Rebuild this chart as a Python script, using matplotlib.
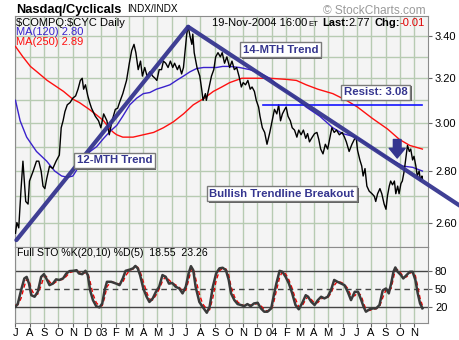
import matplotlib
matplotlib.use("Agg")
import matplotlib.pyplot as plt
from matplotlib.ticker import FixedLocator, FixedFormatter, NullFormatter
from matplotlib import patheffects
import numpy as np
import pandas as pd

plt.rcParams['font.family'] = ['Liberation Sans', 'DejaVu Sans']

# ---------------- data ----------------
price_dates = [
    '2002-07-01', '2002-07-04', '2002-07-08', '2002-07-13', '2002-07-17', '2002-07-21', '2002-07-23', '2002-07-28',
    '2002-07-31', '2002-08-08', '2002-08-15', '2002-08-20', '2002-08-25', '2002-08-29', '2002-09-02', '2002-09-06',
    '2002-09-12', '2002-09-19', '2002-09-26', '2002-10-03', '2002-10-07', '2002-10-11', '2002-10-15', '2002-10-20',
    '2002-10-26', '2002-11-01', '2002-11-07', '2002-11-12', '2002-11-17', '2002-11-21', '2002-11-24', '2002-11-28',
    '2002-12-03', '2002-12-07', '2002-12-11', '2002-12-19', '2002-12-26', '2002-12-31', '2003-01-06', '2003-01-13',
    '2003-01-18', '2003-01-24', '2003-01-31', '2003-02-05', '2003-02-09', '2003-02-16', '2003-02-24', '2003-03-02',
    '2003-03-07', '2003-03-12', '2003-03-16', '2003-03-21', '2003-03-26', '2003-03-30', '2003-04-04', '2003-04-09',
    '2003-04-15', '2003-04-21', '2003-04-26', '2003-04-30', '2003-05-05', '2003-05-10', '2003-05-14', '2003-05-19',
    '2003-05-24', '2003-05-29', '2003-06-03', '2003-06-07', '2003-06-13', '2003-06-17', '2003-06-22', '2003-06-26',
    '2003-06-29', '2003-07-03', '2003-07-06', '2003-07-10', '2003-07-14', '2003-07-16', '2003-07-19', '2003-07-25',
    '2003-07-31', '2003-08-04', '2003-08-07', '2003-08-12', '2003-08-14', '2003-08-20', '2003-08-25', '2003-08-30',
    '2003-09-03', '2003-09-08', '2003-09-13', '2003-09-17', '2003-09-22', '2003-09-27', '2003-10-03', '2003-10-08',
    '2003-10-13', '2003-10-18', '2003-10-23', '2003-10-28', '2003-11-01', '2003-11-06', '2003-11-11', '2003-11-16',
    '2003-11-20', '2003-11-25', '2003-11-29', '2003-12-04', '2003-12-07', '2003-12-12', '2003-12-17', '2003-12-22',
    '2003-12-28', '2004-01-02', '2004-01-07', '2004-01-12', '2004-01-16', '2004-01-20', '2004-01-24', '2004-01-29',
    '2004-02-01', '2004-02-05', '2004-02-10', '2004-02-14', '2004-02-19', '2004-02-24', '2004-02-28', '2004-03-04',
    '2004-03-09', '2004-03-14', '2004-03-18', '2004-03-22', '2004-03-28', '2004-04-02', '2004-04-07', '2004-04-11',
    '2004-04-15', '2004-04-20', '2004-04-25', '2004-04-30', '2004-05-05', '2004-05-09', '2004-05-14', '2004-05-19',
    '2004-05-25', '2004-05-31', '2004-06-05', '2004-06-09', '2004-06-15', '2004-06-21', '2004-06-26', '2004-06-30',
    '2004-07-03', '2004-07-08', '2004-07-12', '2004-07-15', '2004-07-19', '2004-07-23', '2004-07-28', '2004-08-03',
    '2004-08-08', '2004-08-11', '2004-08-15', '2004-08-20', '2004-08-24', '2004-08-29', '2004-09-02', '2004-09-05',
    '2004-09-09', '2004-09-12', '2004-09-16', '2004-09-20', '2004-09-23', '2004-09-27', '2004-09-30', '2004-10-04',
    '2004-10-07', '2004-10-11', '2004-10-14', '2004-10-18', '2004-10-22', '2004-10-25', '2004-10-29', '2004-11-01',
    '2004-11-05', '2004-11-08', '2004-11-12', '2004-11-15', '2004-11-18', '2004-11-19',
]
price_close = [
    2.56, 2.60, 2.58, 2.73, 2.84, 2.73, 2.68, 2.67,
    2.76, 2.80, 2.84, 2.84, 2.80, 2.74, 2.73, 2.77,
    2.82, 2.81, 2.84, 2.865, 2.98, 3.01, 3.05, 3.08,
    3.09, 3.11, 3.12, 3.15, 3.19, 3.20, 3.15, 3.17,
    3.12, 3.09, 3.065, 3.03, 3.01, 2.98, 3.04, 3.01,
    2.95, 3.01, 3.06, 3.065, 3.09, 3.13, 3.19, 3.27,
    3.33, 3.36, 3.32, 3.24, 3.28, 3.21, 3.25, 3.21,
    3.23, 3.21, 3.20, 3.19, 3.24, 3.24, 3.28, 3.27,
    3.25, 3.28, 3.25, 3.27, 3.24, 3.26, 3.22, 3.25,
    3.32, 3.41, 3.45, 3.40, 3.36, 3.41, 3.32, 3.25,
    3.21, 3.15, 3.10, 3.13, 3.10, 3.16, 3.21, 3.24,
    3.30, 3.32, 3.30, 3.32, 3.27, 3.30, 3.25, 3.28,
    3.24, 3.25, 3.21, 3.16, 3.18, 3.17, 3.19, 3.15,
    3.16, 3.14, 3.10, 3.07, 3.03, 2.98, 2.96, 2.91,
    2.96, 3.01, 3.06, 3.04, 3.08, 3.01, 3.04, 3.06,
    3.07, 3.03, 3.01, 2.98, 2.97, 2.94, 2.97, 2.95,
    2.97, 2.935, 2.955, 2.92, 2.94, 2.955, 2.96, 2.93,
    2.89, 2.87, 2.91, 2.89, 2.94, 2.98, 2.96, 2.97,
    2.95, 2.96, 2.94, 2.92, 2.88, 2.91, 2.93, 2.94,
    2.885, 2.845, 2.82, 2.78, 2.81, 2.74, 2.72, 2.71,
    2.70, 2.68, 2.71, 2.73, 2.71, 2.67, 2.65, 2.70,
    2.74, 2.76, 2.745, 2.76, 2.71, 2.74, 2.71, 2.75,
    2.76, 2.80, 2.845, 2.905, 2.88, 2.89, 2.845, 2.86,
    2.82, 2.78, 2.80, 2.76, 2.78, 2.77,
]

ma120_dates = [
    '2002-07-01', '2002-07-11', '2002-07-25', '2002-08-15', '2002-09-06', '2002-09-23', '2002-10-08', '2002-10-21',
    '2002-11-01', '2002-11-11', '2002-11-24', '2002-12-08', '2002-12-22', '2003-01-06', '2003-01-20', '2003-02-03',
    '2003-02-16', '2003-03-03', '2003-03-18', '2003-04-01', '2003-04-15', '2003-04-29', '2003-05-14', '2003-05-28',
    '2003-06-11', '2003-06-26', '2003-07-10', '2003-07-24', '2003-08-08', '2003-08-21', '2003-09-05', '2003-09-18',
    '2003-10-03', '2003-10-24', '2003-11-15', '2003-12-06', '2003-12-28', '2004-01-18', '2004-02-15', '2004-03-15',
    '2004-04-13', '2004-05-11', '2004-06-01', '2004-06-30', '2004-07-21', '2004-08-15', '2004-09-10', '2004-10-08',
    '2004-10-29', '2004-11-19',
]
ma120 = [
    3.10, 3.01, 2.94, 2.88, 2.84, 2.80, 2.78, 2.775,
    2.78, 2.81, 2.85, 2.88, 2.90, 2.935, 2.965, 2.99,
    3.03, 3.08, 3.11, 3.13, 3.135, 3.15, 3.16, 3.17,
    3.19, 3.21, 3.23, 3.245, 3.25, 3.25, 3.25, 3.255,
    3.255, 3.25, 3.24, 3.225, 3.20, 3.16, 3.12, 3.07,
    3.03, 2.98, 2.955, 2.94, 2.915, 2.88, 2.85, 2.82,
    2.815, 2.80,
]

ma250_dates = [
    '2002-07-01', '2002-07-17', '2002-08-02', '2002-08-16', '2002-09-07', '2002-09-21', '2002-10-12', '2002-11-01',
    '2002-11-15', '2002-12-06', '2002-12-22', '2003-01-06', '2003-01-19', '2003-01-27', '2003-02-03', '2003-02-16',
    '2003-03-10', '2003-04-01', '2003-04-23', '2003-05-14', '2003-06-04', '2003-06-26', '2003-07-17', '2003-08-10',
    '2003-08-29', '2003-09-16', '2003-10-03', '2003-10-29', '2003-11-26', '2003-12-28', '2004-02-01', '2004-02-23',
    '2004-03-15', '2004-04-09', '2004-05-11', '2004-06-09', '2004-07-03', '2004-08-04', '2004-09-05', '2004-10-01',
    '2004-10-23', '2004-11-19',
]
ma250 = [
    3.35, 3.30, 3.255, 3.23, 3.19, 3.17, 3.14, 3.105,
    3.09, 3.06, 3.035, 3.01, 2.975, 2.96, 2.95, 2.94,
    2.94, 2.95, 2.96, 2.98, 3.005, 3.04, 3.08, 3.11,
    3.14, 3.16, 3.18, 3.20, 3.20, 3.20, 3.195, 3.19,
    3.17, 3.15, 3.13, 3.10, 3.07, 3.02, 2.975, 2.93,
    2.905, 2.89,
]

sto_dates = [
    '2002-07-01', '2002-07-06', '2002-07-13', '2002-07-20', '2002-07-25', '2002-07-30', '2002-08-04', '2002-08-11',
    '2002-08-18', '2002-08-25', '2002-08-31', '2002-09-05', '2002-09-12', '2002-09-19', '2002-09-26', '2002-10-03',
    '2002-10-11', '2002-10-18', '2002-10-25', '2002-11-02', '2002-11-09', '2002-11-14', '2002-11-21', '2002-11-28',
    '2002-12-03', '2002-12-08', '2002-12-14', '2002-12-21', '2002-12-28', '2003-01-03', '2003-01-08', '2003-01-13',
    '2003-01-22', '2003-02-02', '2003-02-09', '2003-02-16', '2003-02-22', '2003-03-03', '2003-03-10', '2003-03-15',
    '2003-03-20', '2003-03-25', '2003-04-01', '2003-04-08', '2003-04-14', '2003-04-21', '2003-04-28', '2003-05-05',
    '2003-05-12', '2003-05-19', '2003-05-26', '2003-06-02', '2003-06-09', '2003-06-17', '2003-06-24', '2003-07-01',
    '2003-07-07', '2003-07-12', '2003-07-17', '2003-07-22', '2003-07-30', '2003-08-06', '2003-08-15', '2003-08-21',
    '2003-08-28', '2003-09-04', '2003-09-11', '2003-09-18', '2003-09-25', '2003-10-01', '2003-10-06', '2003-10-13',
    '2003-10-20', '2003-10-27', '2003-11-03', '2003-11-10', '2003-11-17', '2003-11-24', '2003-12-02', '2003-12-09',
    '2003-12-16', '2003-12-23', '2003-12-31', '2004-01-05', '2004-01-11', '2004-01-18', '2004-01-24', '2004-01-31',
    '2004-02-07', '2004-02-14', '2004-02-21', '2004-02-28', '2004-03-06', '2004-03-14', '2004-03-19', '2004-03-26',
    '2004-04-02', '2004-04-09', '2004-04-16', '2004-04-23', '2004-04-30', '2004-05-07', '2004-05-14', '2004-05-21',
    '2004-05-29', '2004-06-05', '2004-06-12', '2004-06-19', '2004-06-27', '2004-07-04', '2004-07-11', '2004-07-16',
    '2004-07-21', '2004-07-29', '2004-08-05', '2004-08-12', '2004-08-19', '2004-08-26', '2004-09-02', '2004-09-08',
    '2004-09-13', '2004-09-18', '2004-09-22', '2004-09-27', '2004-10-04', '2004-10-09', '2004-10-16', '2004-10-23',
    '2004-10-29', '2004-11-04', '2004-11-09', '2004-11-14', '2004-11-19',
]
sto_k = [
    21, 26, 48, 67.5, 70, 59, 40, 37.5, 46, 70,
    74.5, 67.5, 56.5, 59, 66, 65, 67.5, 75.6, 79.5, 80,
    81, 75.6, 74.5, 80, 73, 48, 32, 22, 20, 26.5,
    48, 62, 62, 59, 56.5, 67.5, 80, 82, 84, 88,
    84, 73, 51, 37.5, 29, 34.5, 45.6, 54, 73, 70,
    59, 60, 54, 51, 43, 54, 75.6, 87.6, 81, 54,
    29, 21, 11.3, 21, 54, 75.6, 84, 85, 81, 65,
    43, 32, 25.5, 24, 22, 25.5, 22, 26.5, 27.6, 18.4,
    13, 13, 18.4, 37.5, 59, 80, 78.4, 70, 59, 43,
    24, 17, 26.5, 40, 37.5, 29, 24, 32, 37.5, 34.8,
    37.5, 48, 65, 62, 59, 56.5, 45.6, 32, 45.6, 45.6,
    32, 21, 13, 17, 18.4, 18.4, 24, 48, 51, 43,
    59, 78.4, 85.5, 78.4, 73, 67.5, 73, 78.4, 78.4, 65,
    43, 26.5, 18.55,
]
sto_d = [
    24, 24, 35, 55, 66, 65, 50, 40, 42, 56,
    70, 71, 62, 58, 62, 65, 66, 71, 77, 79,
    80, 78, 75, 77, 77, 62, 42, 28, 22, 23,
    36, 54, 62, 60, 58, 61, 72, 81, 83, 86,
    86, 79, 62, 45, 34, 32, 40, 50, 63, 71,
    65, 60, 57, 53, 47, 48, 64, 81, 84, 68,
    42, 26, 17, 16, 36, 64, 80, 84, 83, 73,
    54, 38, 29, 25, 23, 24, 24, 24, 27, 23,
    16, 14, 16, 27, 47, 69, 79, 75, 65, 51,
    34, 21, 22, 33, 38, 33, 27, 28, 34, 36,
    36, 43, 56, 63, 61, 58, 51, 39, 39, 45,
    39, 27, 17, 15, 17, 18, 21, 36, 49, 47,
    51, 68, 82, 82, 76, 70, 70, 76, 78, 72,
    54, 35, 23.26,
]

month_labels = ['J', 'A', 'S', 'O', 'N', 'D', '03', 'F', 'M', 'A', 'M', 'J', 'J', 'A', 'S',
                'O', 'N', 'D', '04', 'F', 'M', 'A', 'M', 'J', 'J', 'A', 'S', 'O', 'N']
price_ticks = [2.60, 2.80, 3.00, 3.20, 3.40]
sto_ticks = [20, 50, 80]

# trendlines drawn on the chart: (date, price) end points
trend_12m = (('2002-07-03', 2.535), ('2003-07-06', 3.446))
trend_14m = (('2003-07-06', 3.446), ('2005-02-07', 2.664))
resist_level = 3.08
resist_span = ('2003-12-13', '2004-11-19')
arrow_date = '2004-09-26'
arrow_from, arrow_to = 2.93, 2.853

last_close, change = 2.77, -0.01
ma120_last, ma250_last = 2.80, 2.89
sto_k_last, sto_d_last = 18.55, 23.26

# ---------------- figure ----------------
W, H = 460, 340
fig = plt.figure(figsize=(W / 100, H / 100), dpi=100, facecolor='white')

def frac_rect(x0, y0, x1, y1):
    return [x0 / W, 1 - y1 / H, (x1 - x0) / W, (y1 - y0) / H]

ax = fig.add_axes(frac_rect(15, 16, 428, 247))
axs = fig.add_axes(frac_rect(15, 247, 428, 323.3), sharex=ax)

bg = '#f4f4f4'
grid_c = '#b7cbb2'
navy = '#35358f'
ma_blue = '#3a22cc'
spine_c = '#8c8c8c'

pd_price = pd.to_datetime(price_dates)
month_starts = pd.date_range('2002-07-01', periods=len(month_labels), freq='MS')

for a in (ax, axs):
    a.set_facecolor(bg)
    for s in a.spines.values():
        s.set_color(spine_c)
        s.set_linewidth(0.8)
    a.xaxis.set_major_locator(FixedLocator(matplotlib.dates.date2num(month_starts)))
    a.grid(True, axis='x', color=grid_c, lw=1.0)
    a.set_axisbelow(True)
    a.yaxis.tick_right()
    a.tick_params(axis='both', which='both', labelsize=8, length=3, color='#666666', pad=2)

# price panel (log scale, grid every 0.10)
ax.set_yscale('log')
ax.set_ylim(2.51, 3.50)
ax.set_xlim(pd.Timestamp('2002-06-30'), pd.Timestamp('2004-12-01'))
ax.yaxis.set_major_locator(FixedLocator(price_ticks))
ax.yaxis.set_major_formatter(FixedFormatter(['%.2f' % v for v in price_ticks]))
ax.yaxis.set_minor_locator(FixedLocator(np.round(np.arange(2.60, 3.50, 0.10), 2)))
ax.yaxis.set_minor_formatter(NullFormatter())
ax.grid(True, axis='y', which='both', color=grid_c, lw=1.0)
ax.tick_params(axis='x', labelbottom=False, length=0)
ax.tick_params(axis='y', which='minor', length=0)

ax.plot(pd.to_datetime(ma250_dates), ma250, color='#ff1010', lw=1.0, zorder=3)
ax.plot(pd.to_datetime(ma120_dates), ma120, color=ma_blue, lw=1.0, zorder=3)
ax.plot(pd_price, price_close, color='black', lw=1.0, zorder=4)

ax.plot(pd.to_datetime(list(resist_span)), [resist_level, resist_level], color='#1414ff', lw=1.2, zorder=4)

for (d0, p0), (d1, p1) in (trend_12m, trend_14m):
    ax.plot(pd.to_datetime([d0, d1]), [p0, p1], color=navy, lw=3.0, solid_capstyle='round',
            zorder=5, clip_on=False, alpha=0.95)

ax.annotate('', xy=(pd.Timestamp(arrow_date), arrow_to), xytext=(pd.Timestamp(arrow_date), arrow_from),
            arrowprops=dict(arrowstyle='simple,head_width=1.15,head_length=0.7,tail_width=0.55',
                            color=navy, mutation_scale=10, shrinkA=0, shrinkB=0), zorder=6)

def label_box(date, price, text):
    t = ax.text(pd.Timestamp(date), price, text, ha='center', va='center', fontsize=8.2,
                fontweight='bold', color=navy, zorder=7,
                bbox=dict(boxstyle='square,pad=0.22', facecolor='white', edgecolor='#7a7a7a', lw=1.0))
    t.get_bbox_patch().set_path_effects([
        patheffects.withSimplePatchShadow(offset=(1.2, -1.2), shadow_rgbFace='#606060', alpha=1.0)])
    return t

label_box('2004-01-20', 3.335, '14-MTH Trend')
label_box('2003-01-29', 2.843, '12-MTH Trend')
label_box('2004-08-11', 3.137, 'Resist: %.2f' % resist_level)
label_box('2004-01-23', 2.709, 'Bullish Trendline Breakout')

# stochastic panel
axs.set_ylim(-6, 119)
axs.yaxis.set_major_locator(FixedLocator(sto_ticks))
axs.yaxis.set_major_formatter(FixedFormatter([str(v) for v in sto_ticks]))
axs.xaxis.set_major_formatter(FixedFormatter(month_labels))
axs.tick_params(axis='x', length=3, pad=0.5)
for lvl, ls in ((80, '-'), (50, (0, (4, 3))), (20, '-')):
    axs.axhline(lvl, color='#444444', lw=1.0, ls=ls, zorder=2)
sd = pd.to_datetime(sto_dates)
axs.plot(sd, sto_d, color='#ee0000', lw=1.0, ls=(0, (3, 2)), zorder=3)
axs.plot(sd, sto_k, color='#3a3a3a', lw=1.8, zorder=4)

# ---------------- header texts ----------------
def fig_text(x, y, s, **kw):
    return fig.text(x / W, 1 - y / H, s, **kw)

fig_text(16, 12.5, 'Nasdaq/Cyclicals', fontsize=9.3, fontweight='bold', va='baseline')
fig_text(127, 12.5, 'INDX/INDX', fontsize=7.2, va='baseline')
fig_text(426, 13.5, '\u00a9 StockCharts.com', fontsize=8.6, color='#9a9a9a', va='baseline', ha='right')

fig_text(16, 25.5, r'\$COMPQ:\$CYC Daily', fontsize=8, va='baseline')
fig_text(16, 35, 'MA(120) %.2f' % ma120_last, fontsize=8, va='baseline', color=ma_blue)
fig_text(16, 45, 'MA(250) %.2f' % ma250_last, fontsize=8, va='baseline', color='#ff1010')
fig_text(17, 256.5, 'Full STO %%K(20,10) %%D(5)  %.2f  %.2f' % (sto_k_last, sto_d_last),
         fontsize=7.6, va='baseline')

renderer = fig.canvas.get_renderer()
# each run: text, style, space to its left
runs = [
    ('19-Nov-2004 16:00', dict(fontsize=8), 0),
    ('ET', dict(fontsize=5.5), 0.5),
    ('Last:', dict(fontsize=8, fontweight='bold'), 4),
    ('%.2f' % last_close, dict(fontsize=8), 0),
    ('Chg:', dict(fontsize=8, fontweight='bold'), 4),
    ('%.2f' % change, dict(fontsize=8, color='#dd0000'), 0),
]
x = 425.0
for s, kw, gap in reversed(runs):
    t = fig_text(x, 25.5, s, ha='right', va='baseline', **kw)
    x -= t.get_window_extent(renderer).width + gap

fig.savefig('out.png', dpi=100, facecolor='white')
